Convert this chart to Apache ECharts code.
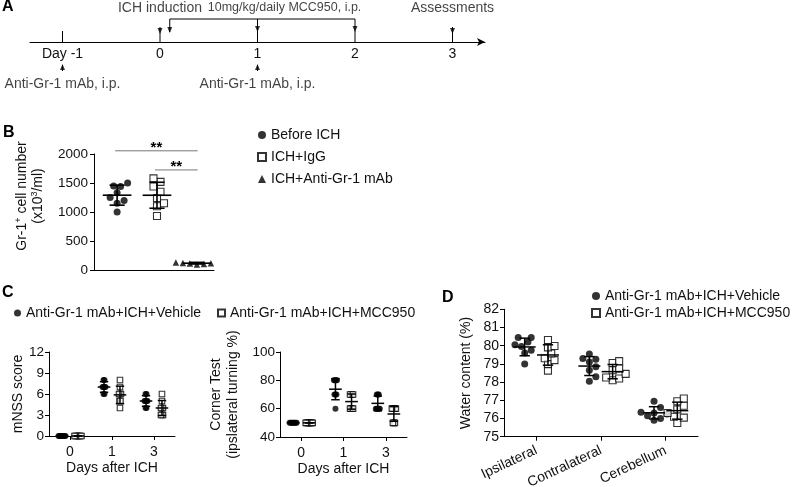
<!DOCTYPE html>
<html><head><meta charset="utf-8">
<script src="https://cdn.jsdelivr.net/npm/echarts@6/dist/echarts.min.js"></script>
<style>html,body{margin:0;padding:0;background:#fff}#c{width:800px;height:487px}</style>
</head><body><div id="c"></div>
<script>
// ================= DATA =================
// Panel A : experimental timeline (days)
const aTickDays = [-1, 0, 1, 2, 3];
const aTickLabels = ['Day -1', '0', '1', '2', '3'];
const aTopEventDays = [0, 3];
const aTopEventTexts = ['ICH induction', 'Assessments'];
const aTreatStartDay = 0.1;          // first MCC950 dose right after ICH
const aTreatDays = [1, 2];
const aTreatText = '10mg/kg/daily MCC950, i.p.';
const aInjectDays = [-1, 1];
const aInjectText = 'Anti-Gr-1 mAb, i.p.';

// Panel B : Gr-1+ cell number (x10^3/ml)
const bGroups = ['Before ICH', 'ICH+IgG', 'ICH+Anti-Gr-1 mAb'];
const bBefore = [1000, 1150, 1200, 1250, 1330, 1440, 1450, 1500];
const bIgG    = [930, 1100, 1150, 1240, 1350, 1440, 1520, 1580];
const bAnti   = [95, 105, 110, 115, 120, 125, 130, 140];
const bSigPairs = [[0, 2], [1, 2]];
const bSigText = ['**', '**'];

// Panel C : behaviour
const cDays = ['0', '1', '3'];
const cSeries = ['Anti-Gr-1 mAb+ICH+Vehicle', 'Anti-Gr-1 mAb+ICH+MCC950'];
const mnssVehicle = [[0,0,0,0,0,0,0,0], [6,6,7,7,7,7,8,8], [4,4,5,5,5,5,6,6]];
const mnssMCC     = [[0,0,0,0,0,0,0,0], [4,5,5,6,6,6,7,8], [3,3,3,4,4,4,5,6]];
const cornerVehicle = [[50,50,50,50,50,50,50,50], [60,70,70,70,80,80,80,80], [60,60,60,60,60,70,70,70]];
const cornerMCC     = [[50,50,50,50,50,50,50,50], [60,60,60,60,70,70,70,70], [50,50,50,60,60,60,60,60]];

// Panel D : brain water content (%)
const dRegions = ['Ipsilateral', 'Contralateral', 'Cerebellum'];
const waterVehicle = [
  [79.0, 79.6, 79.75, 79.95, 80.05, 80.2, 80.45, 80.45],
  [78.05, 78.3, 78.65, 78.85, 79.1, 79.25, 79.3, 79.55],
  [75.9, 76.0, 76.15, 76.25, 76.3, 76.35, 76.6, 76.95]
];
const waterMCC = [
  [78.63, 78.99, 79.21, 79.31, 79.58, 79.91, 79.98, 80.31],
  [78.1, 78.2, 78.25, 78.45, 78.65, 78.75, 79.05, 79.15],
  [75.75, 76.05, 76.1, 76.3, 76.5, 76.7, 76.95, 77.1]
];

// ================= LAYOUT =================
const FONT = 'Liberation Sans';
const TXT = '#111';
const G = {
  A: {left: 30, top: 0, width: 455, height: 42},
  B: {left: 94, top: 154, width: 120, height: 116},
  C1: {left: 49, top: 352, width: 126, height: 84},
  C2: {left: 280, top: 352, width: 127, height: 85},
  D: {left: 504, top: 309.3, width: 194, height: 127.4}
};
const B_XMIN = -0.58, B_XMAX = 2.43;
const B_SIG_LEVELS = [2055, 1725];
const A_L = {eventTop: 15, bracket: 23, treatTip: 10, injTop: -23, injBottom: -29,
             topText: 34, bottomText: -42, arrowEvent: 11, arrowTreatStart: 12, arrowTreat: 13, arrowUp: -25};
const C_OFF = 0.19, D_OFF = 0.18;

// ================= HELPERS =================
const mean = a => a.reduce((s, v) => s + v, 0) / a.length;
const sd = a => { const m = mean(a); return Math.sqrt(a.reduce((s, v) => s + (v - m) * (v - m), 0) / (a.length - 1)); };

function swarm(values, center, pxX, pxY, d) {
  const idx = values.map((_, i) => i).sort((a, b) => values[a] - values[b]);
  const placed = [], off = new Array(values.length).fill(0);
  idx.forEach(i => {
    const y = values[i] * pxY;
    for (let k = 0; k < 400; k++) {
      const c = k === 0 ? 0 : (k % 2 ? 1 : -1) * Math.ceil(k / 2) * d / 2;
      if (placed.every(p => Math.hypot(p.x - c, p.y - y) >= d - 1e-9)) { off[i] = c; placed.push({x: c, y}); break; }
    }
  });
  const byVal = {};
  values.forEach((v, i) => (byVal[v] = byVal[v] || []).push(i));
  Object.values(byVal).forEach(g => {
    if (g.length > 1) { const m = g.reduce((s, i) => s + off[i], 0) / g.length; g.forEach(i => off[i] -= m); }
  });
  return values.map((v, i) => [center + off[i] / pxX, v]);
}

const SYM = {
  circle: s => ({symbol: 'circle', symbolSize: s, itemStyle: {color: '#000'}}),
  square: s => ({symbol: 'rect', symbolSize: s, itemStyle: {color: '#fff', borderColor: '#000', borderWidth: 1.1}}),
  tri: s => ({symbol: 'triangle', symbolSize: s, itemStyle: {color: '#000'}})
};

function pointSeries(name, xIdx, yIdx, data, sym) {
  return Object.assign({type: 'scatter', name, xAxisIndex: xIdx, yAxisIndex: yIdx, data, z: 2,
    emphasis: {disabled: true}}, sym);
}

function errSeries(xIdx, yIdx, items, halfMean, halfCap, lw) {
  return {type: 'custom', xAxisIndex: xIdx, yAxisIndex: yIdx, silent: true, z: 4,
    data: items, encode: {x: 0, y: 1},
    renderItem(params, api) {
      const x = api.value(0), m = api.value(1), s = api.value(2);
      const top = api.coord([x, m + s]), bot = api.coord([x, m - s]);
      const mL = api.coord([x - halfMean, m]), mR = api.coord([x + halfMean, m]);
      const cL = api.coord([x - halfCap, m])[0], cR = api.coord([x + halfCap, m])[0];
      const st = {stroke: '#000', lineWidth: lw};
      return {type: 'group', children: [
        {type: 'line', shape: {x1: top[0], y1: top[1], x2: bot[0], y2: bot[1]}, style: st},
        {type: 'line', shape: {x1: cL, y1: top[1], x2: cR, y2: top[1]}, style: st},
        {type: 'line', shape: {x1: cL, y1: bot[1], x2: cR, y2: bot[1]}, style: st},
        {type: 'line', shape: {x1: mL[0], y1: mL[1], x2: mR[0], y2: mR[1]}, style: st}
      ]};
    }};
}

const axLine = {show: true, onZero: false, lineStyle: {color: '#000', width: 1}};
const axTick = {show: true, length: 4, lineStyle: {color: '#000', width: 1}};
const yLab = (fs, m) => ({color: TXT, fontSize: fs, fontFamily: FONT, margin: m, formatter: v => String(v)});

// ================= BUILD =================
// ---- Panel A
const aSegs = [];
aTopEventDays.forEach(d => aSegs.push([d, A_L.eventTop, d, 0]));
const aLastTreat = aTreatDays[aTreatDays.length - 1];
aSegs.push([aTreatStartDay, A_L.bracket, aLastTreat, A_L.bracket]);
aSegs.push([aTreatStartDay, A_L.bracket, aTreatStartDay, A_L.treatTip]);
aTreatDays.forEach(d => aSegs.push([d, A_L.bracket, d, 0]));
aInjectDays.forEach(d => aSegs.push([d, A_L.injTop, d, A_L.injBottom]));

const aDown = aTopEventDays.map(d => [d, A_L.arrowEvent])
  .concat([[aTreatStartDay, A_L.arrowTreatStart]])
  .concat(aTreatDays.map(d => [d, A_L.arrowTreat]));
const aUp = aInjectDays.map(d => [d, A_L.arrowUp]);
const aTexts = aTopEventDays.map((d, i) => ({name: aTopEventTexts[i], value: [d, A_L.topText]}))
  .concat([{name: aTreatText, value: [aLastTreat + 0.07, A_L.topText], label: {position: 'left', distance: 0, fontSize: 12.5}}])
  .concat(aInjectDays.map(d => ({name: aInjectText, value: [d, A_L.bottomText]})));

// ---- Panel B
const bPxX = G.B.width / (B_XMAX - B_XMIN), bPxY = G.B.height / 2000;
const bSets = [bBefore, bIgG, bAnti];
const bSyms = [SYM.circle(7), SYM.square(7), SYM.tri(6.5)];

// ---- Panel C / D
const c1PxX = G.C1.width / 3, c1PxY = G.C1.height / 12;
const c2PxX = G.C2.width / 3, c2PxY = G.C2.height / 60;
const dPxX = G.D.width / 3, dPxY = G.D.height / 7;

function groupedPoints(sets, off, pxX, pxY, d) {
  return sets.map((vals, i) => swarm(vals, i + off, pxX, pxY, d)).flat();
}
function groupedStats(sets, off) {
  return sets.map((vals, i) => [i + off, mean(vals), sd(vals)]);
}

const series = [
  // A
  {type: 'custom', xAxisIndex: 0, yAxisIndex: 0, silent: true, clip: false, data: aSegs, encode: {x: [0, 2], y: [1, 3]},
    renderItem(p, api) {
      const p1 = api.coord([api.value(0), api.value(1)]), p2 = api.coord([api.value(2), api.value(3)]);
      return {type: 'line', shape: {x1: p1[0], y1: p1[1], x2: p2[0], y2: p2[1]}, style: {stroke: '#000', lineWidth: 1}};
    }},
  {type: 'scatter', xAxisIndex: 0, yAxisIndex: 0, silent: true, clip: false, data: aDown, symbol: 'triangle',
    symbolRotate: 180, symbolSize: [5, 6], itemStyle: {color: '#000'}},
  {type: 'scatter', xAxisIndex: 0, yAxisIndex: 0, silent: true, clip: false, data: aUp, symbol: 'triangle',
    symbolSize: [5, 6], itemStyle: {color: '#000'}},
  {type: 'scatter', xAxisIndex: 0, yAxisIndex: 0, silent: true, clip: false, data: aTexts, symbolSize: 1,
    itemStyle: {color: 'rgba(0,0,0,0)'},
    label: {show: true, position: 'inside', formatter: p => p.name, color: TXT, fontSize: 14, fontFamily: FONT}},
  // B
  ...bSets.map((vals, i) => pointSeries(bGroups[i], 1, 1, swarm(vals, i, bPxX, bPxY, 7), bSyms[i])),
  errSeries(1, 1, bSets.map((vals, i) => [i, mean(vals), sd(vals)]), 0.36, 0.19, 1.6),
  {type: 'custom', xAxisIndex: 1, yAxisIndex: 1, silent: true, clip: false, z: 5,
    data: bSigPairs.map((p, k) => [p[0], p[1], B_SIG_LEVELS[k]]), encode: {x: [0, 1], y: 2},
    renderItem(params, api) {
      const a = api.coord([api.value(0) - 0.05, api.value(2)]), b = api.coord([api.value(1) + 0.02, api.value(2)]);
      return {type: 'group', children: [
        {type: 'line', shape: {x1: a[0], y1: a[1], x2: b[0], y2: b[1]}, style: {stroke: '#777', lineWidth: 1}},
        {type: 'text', style: {text: bSigText[params.dataIndex], x: (a[0] + b[0]) / 2, y: a[1] - 3,
          align: 'center', verticalAlign: 'middle', fill: '#000', font: 'bold 15px ' + FONT}}
      ]};
    }},
  // C1 mNSS
  pointSeries(cSeries[0], 3, 2, groupedPoints(mnssVehicle, -C_OFF, c1PxX, c1PxY, 1), SYM.circle(6)),
  pointSeries(cSeries[1], 3, 2, groupedPoints(mnssMCC, C_OFF, c1PxX, c1PxY, 1), SYM.square(5.5)),
  errSeries(3, 2, groupedStats(mnssVehicle, -C_OFF).concat(groupedStats(mnssMCC, C_OFF)), 0.15, 0.1, 1.5),
  // C2 corner
  pointSeries(cSeries[0], 5, 3, groupedPoints(cornerVehicle, -C_OFF, c2PxX, c2PxY, 1), SYM.circle(6)),
  pointSeries(cSeries[1], 5, 3, groupedPoints(cornerMCC, C_OFF, c2PxX, c2PxY, 1), SYM.square(5.5)),
  errSeries(5, 3, groupedStats(cornerVehicle, -C_OFF).concat(groupedStats(cornerMCC, C_OFF)), 0.15, 0.1, 1.5),
  // D
  pointSeries(cSeries[0], 7, 4, groupedPoints(waterVehicle, -D_OFF, dPxX, dPxY, 6.5), SYM.circle(7)),
  pointSeries(cSeries[1], 7, 4, groupedPoints(waterMCC, D_OFF, dPxX, dPxY, 6.5), SYM.square(7)),
  errSeries(7, 4, groupedStats(waterVehicle, -D_OFF).concat(groupedStats(waterMCC, D_OFF)), 0.17, 0.08, 1.5)
];

const legText = {color: TXT, fontSize: 14, fontFamily: FONT};
const option = {
  animation: false,
  backgroundColor: '#fff',
  textStyle: {fontFamily: FONT},
  grid: Object.values(G).map(g => Object.assign({outerBoundsMode: 'none', containLabel: false}, g)),
  xAxis: [
    {gridIndex: 0, type: 'value', min: -4 / 3, max: 10 / 3,
      axisLine: {show: true, onZero: false, symbol: ['none', 'arrow'], symbolSize: [6, 8], lineStyle: {color: '#000', width: 1}},
      axisTick: {show: true, inside: true, length: 11, customValues: [aTickDays[0]], lineStyle: {color: '#000'}},
      axisLabel: {show: true, customValues: aTickDays, formatter: v => aTickLabels[aTickDays.indexOf(v)],
        color: TXT, fontSize: 14, fontFamily: FONT, margin: 5},
      splitLine: {show: false}},
    {gridIndex: 1, type: 'value', min: B_XMIN, max: B_XMAX, axisLine: axLine, axisTick: {show: false},
      axisLabel: {show: false}, splitLine: {show: false}},
    {gridIndex: 2, type: 'category', data: cDays, axisLine: axLine, axisTick: Object.assign({alignWithLabel: true}, axTick),
      axisLabel: yLab(14, 9), name: 'Days after ICH', nameLocation: 'middle', nameGap: 25,
      nameTextStyle: {color: TXT, fontSize: 14, fontFamily: FONT}},
    {gridIndex: 2, type: 'value', min: -0.5, max: 2.5, show: false},
    {gridIndex: 3, type: 'category', data: cDays, axisLine: axLine, axisTick: Object.assign({alignWithLabel: true}, axTick),
      axisLabel: yLab(14, 9), name: 'Days after ICH', nameLocation: 'middle', nameGap: 25,
      nameTextStyle: {color: TXT, fontSize: 14, fontFamily: FONT}},
    {gridIndex: 3, type: 'value', min: -0.5, max: 2.5, show: false},
    {gridIndex: 4, type: 'category', data: dRegions, axisLine: axLine, axisTick: Object.assign({alignWithLabel: true}, axTick),
      axisLabel: Object.assign(yLab(14, 13), {rotate: 25})},
    {gridIndex: 4, type: 'value', min: -0.5, max: 2.5, show: false}
  ],
  yAxis: [
    {gridIndex: 0, type: 'value', min: 0, max: 42, show: false},
    {gridIndex: 1, type: 'value', min: 0, max: 2000, interval: 500, axisLine: axLine, axisTick: axTick,
      axisLabel: yLab(13.5, 6), splitLine: {show: false},
      name: '{n|Gr-1}{s|+}{n| cell number}\n{n|(x10}{s|3}{n|/ml)}', nameLocation: 'middle', nameGap: 48,
      nameTextStyle: {color: TXT, fontFamily: FONT, padding: [0, 0, 0, 32], lineHeight: 16,
        rich: {n: {fontSize: 14, color: TXT, fontFamily: FONT}, s: {fontSize: 9, color: TXT, fontFamily: FONT, verticalAlign: 'top'}}}},
    {gridIndex: 2, type: 'value', min: 0, max: 12, interval: 3, axisLine: axLine, axisTick: axTick,
      axisLabel: yLab(13.5, 5), splitLine: {show: false},
      name: 'mNSS score', nameLocation: 'middle', nameGap: 24, nameTextStyle: {color: TXT, fontSize: 14, fontFamily: FONT}},
    {gridIndex: 3, type: 'value', min: 40, max: 100, interval: 20, axisLine: axLine, axisTick: axTick,
      axisLabel: yLab(13.5, 5), splitLine: {show: false},
      name: 'Corner Test\n(ipslateral turning %)', nameLocation: 'middle', nameGap: 38,
      nameTextStyle: {color: TXT, fontSize: 14, fontFamily: FONT, lineHeight: 17}},
    {gridIndex: 4, type: 'value', min: 75, max: 82, interval: 1, axisLine: axLine, axisTick: axTick,
      axisLabel: yLab(14, 5), splitLine: {show: false},
      name: 'Water content (%)', nameLocation: 'middle', nameGap: 31, nameTextStyle: {color: TXT, fontSize: 14, fontFamily: FONT}}
  ],
  legend: [
    {left: 257, top: 128, orient: 'vertical', itemGap: 8, itemWidth: 8, itemHeight: 8, padding: 0,
      selectedMode: false, data: bGroups, textStyle: legText},
    {left: 14, top: 306, itemWidth: 7, itemHeight: 7, padding: 0, selectedMode: false, data: [cSeries[0]], textStyle: legText},
    {left: 217, top: 306, itemWidth: 7, itemHeight: 7, padding: 0, selectedMode: false, data: [cSeries[1]], textStyle: legText},
    {left: 591, top: 289, orient: 'vertical', itemGap: 3, itemWidth: 8, itemHeight: 8, padding: 0,
      selectedMode: false, data: cSeries, textStyle: legText}
  ],
  graphic: [
    {type: 'text', left: 2, top: -1, style: {text: 'A', font: 'bold 16px ' + FONT, fill: '#000'}},
    {type: 'text', left: 3, top: 125, style: {text: 'B', font: 'bold 16px ' + FONT, fill: '#000'}},
    {type: 'text', left: 2, top: 285, style: {text: 'C', font: 'bold 16px ' + FONT, fill: '#000'}},
    {type: 'text', left: 442, top: 290, style: {text: 'D', font: 'bold 16px ' + FONT, fill: '#000'}}
  ],
  series
};

const chart = echarts.init(document.getElementById('c'), null, {renderer: 'canvas'});
chart.setOption(option);
</script>
</body></html>
